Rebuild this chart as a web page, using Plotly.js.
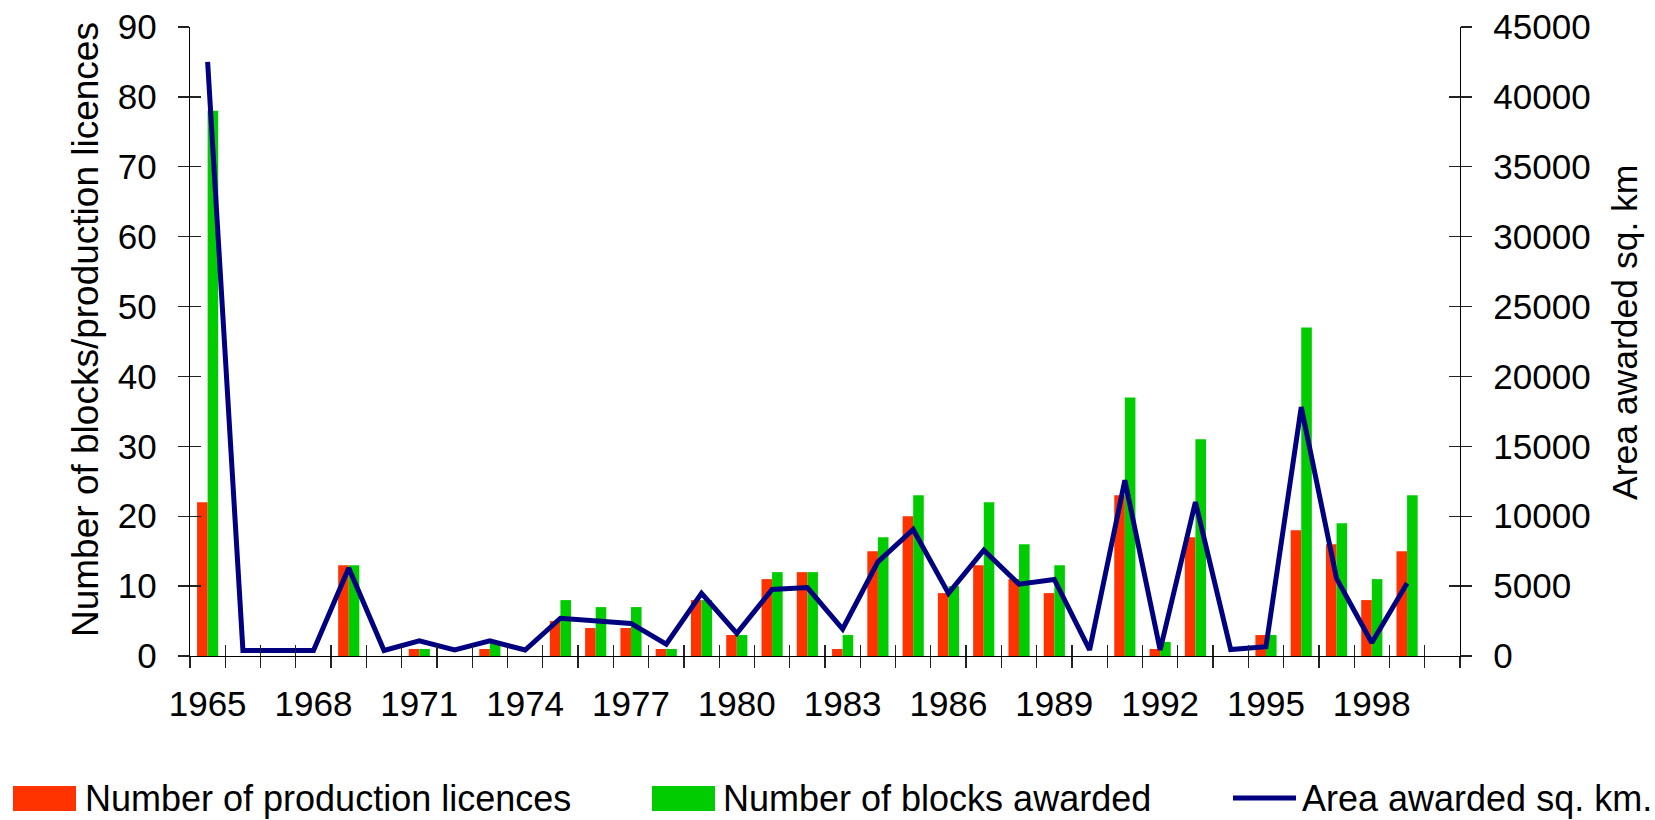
<!DOCTYPE html>
<html>
<head>
<meta charset="utf-8">
<script src="https://cdn.plot.ly/plotly-3.0.1.min.js"></script>
<style>
  html, body { margin: 0; padding: 0; background: #ffffff; }
  #chart { width: 1655px; height: 820px; }
</style>
</head>
<body>
<div id="chart"></div>
<script>
// ---------------- data ----------------
const years = [1965, 1966, 1967, 1968, 1969, 1970, 1971, 1972, 1973, 1974,
               1975, 1976, 1977, 1978, 1979, 1980, 1981, 1982, 1983, 1984,
               1985, 1986, 1987, 1988, 1989, 1990, 1991, 1992, 1993, 1994,
               1995, 1996, 1997, 1998, 1999, 2000];
const productionLicences = [22, 0, 0, 0, 13, 0, 1, 0, 1, 0,
                            5, 4, 4, 1, 8, 3, 11, 12, 1, 15,
                            20, 9, 13, 11, 9, 0, 23, 1, 17, 0,
                            3, 18, 16, 8, 15, null];
const blocksAwarded = [78, 0, 0, 0, 13, 0, 1, 0, 2, 0,
                       8, 7, 7, 1, 8, 3, 12, 12, 3, 17,
                       23, 10, 22, 16, 13, 0, 37, 2, 31, 0,
                       3, 47, 19, 11, 23, null];
const areaAwarded = [42500, 400, 400, 400, 6300, 400, 1080, 430, 1080, 430,
                     2700, 2550, 2330, 850, 4480, 1620, 4760, 4900, 1930, 6740,
                     9050, 4480, 7570, 5140, 5480, 430, 12570, 430, 11020, 460,
                     660, 17810, 5550, 950, 5200, null];
const seriesNames = ["Number of production licences", "Number of blocks awarded", "Area awarded sq. km."];
const leftTitle = "Number of blocks/production licences";
const rightTitle = "Area awarded sq. km";
const leftTicks = [0, 10, 20, 30, 40, 50, 60, 70, 80, 90];
const rightTicks = [0, 5000, 10000, 15000, 20000, 25000, 30000, 35000, 40000, 45000];

// --------------- derived --------------
const labelYears = years.filter(y => (y - years[0]) % 3 === 0 && y < 2000);
const boundaries = years.map(y => y - 0.5).concat([years[years.length - 1] + 0.5]);
const xRange = [boundaries[0], boundaries[boundaries.length - 1]];

// --------------- style ---------------
const FONT = "Liberation Sans, Arial, Helvetica, sans-serif";
const W = 1655, H = 820;
const M = { l: 190, r: 195, t: 27, b: 164 };
const pw = W - M.l - M.r, ph = H - M.t - M.b;
const px = x => (x - M.l) / pw;        // pixel -> paper x
const py = y => (H - M.b - y) / ph;    // pixel -> paper y
const RED = "#FF3300", GREEN = "#00CC00", NAVY = "#000080";
const TICKC = "#222";

// invisible helper traces so that the overlay axes (inner halves of the crossing ticks) get drawn
const helper = (xa, ya) => ({ type: "scatter", mode: "markers", x: [null], y: [null],
  xaxis: xa, yaxis: ya, showlegend: false, hoverinfo: "skip", marker: { opacity: 0 } });

const traces = [
  { type: "bar", name: seriesNames[0], x: years, y: productionLicences,
    marker: { color: RED }, xaxis: "x", yaxis: "y", showlegend: false },
  { type: "bar", name: seriesNames[1], x: years, y: blocksAwarded,
    marker: { color: GREEN }, xaxis: "x", yaxis: "y", showlegend: false },
  { type: "scatter", mode: "lines", name: seriesNames[2], x: years, y: areaAwarded,
    line: { color: NAVY, width: 5 }, xaxis: "x", yaxis: "y2", showlegend: false },
  helper("x2", "y"),
  helper("x", "y3"),
  helper("x", "y4")
];

const tickFont = { family: FONT, size: 35, color: "#000" };
const commonAx = { showgrid: false, zeroline: false, fixedrange: true };

const layout = {
  width: W, height: H,
  margin: M,
  paper_bgcolor: "#fff", plot_bgcolor: "#fff",
  barmode: "group", bargap: 0.4, bargroupgap: 0,
  showlegend: false,
  font: { family: FONT, color: "#000" },
  xaxis: Object.assign({}, commonAx, {
    type: "linear", range: xRange,
    tickmode: "array", tickvals: labelYears, ticktext: labelYears.map(String),
    ticks: "", tickfont: tickFont, ticklabelstandoff: 17,
    showline: true, linecolor: "#000", linewidth: 1.3,
    minor: { tickmode: "array", tickvals: boundaries, ticks: "outside", ticklen: 11, tickwidth: 1.3, tickcolor: TICKC }
  }),
  xaxis2: Object.assign({}, commonAx, {
    type: "linear", range: xRange, overlaying: "x", anchor: "y", side: "bottom",
    tickmode: "array", tickvals: boundaries, ticks: "inside", ticklen: 11, tickwidth: 1.3, tickcolor: TICKC,
    showticklabels: false, showline: false
  }),
  yaxis: Object.assign({}, commonAx, {
    range: [0, 90], tickmode: "array", tickvals: leftTicks, ticktext: leftTicks.map(String),
    ticks: "outside", ticklen: 11, tickwidth: 1.3, tickcolor: TICKC,
    tickfont: tickFont, ticklabelstandoff: 14,
    showline: true, linecolor: "#000", linewidth: 1.3
  }),
  yaxis3: Object.assign({}, commonAx, {
    range: [0, 90], overlaying: "y", anchor: "x", side: "left",
    tickmode: "array", tickvals: leftTicks,
    ticks: "inside", ticklen: 11, tickwidth: 1.3, tickcolor: TICKC,
    showticklabels: false, showline: false
  }),
  yaxis2: Object.assign({}, commonAx, {
    range: [0, 45000], overlaying: "y", anchor: "x", side: "right",
    tickmode: "array", tickvals: rightTicks, ticktext: rightTicks.map(String),
    ticks: "outside", ticklen: 11, tickwidth: 1.3, tickcolor: TICKC,
    tickfont: tickFont, ticklabelstandoff: 14,
    showline: true, linecolor: "#000", linewidth: 1.3
  }),
  yaxis4: Object.assign({}, commonAx, {
    range: [0, 45000], overlaying: "y", anchor: "x", side: "right",
    tickmode: "array", tickvals: rightTicks,
    ticks: "inside", ticklen: 11, tickwidth: 1.3, tickcolor: TICKC,
    showticklabels: false, showline: false
  }),
  shapes: [
    { type: "rect", xref: "paper", yref: "paper", x0: px(13), x1: px(76), y0: py(811), y1: py(786),
      fillcolor: RED, line: { width: 0 } },
    { type: "rect", xref: "paper", yref: "paper", x0: px(652), x1: px(715), y0: py(811), y1: py(786),
      fillcolor: GREEN, line: { width: 0 } },
    { type: "line", xref: "paper", yref: "paper", x0: px(1233), x1: px(1296), y0: py(798), y1: py(798),
      line: { color: NAVY, width: 5 } }
  ],
  annotations: [
    { text: seriesNames[0], xref: "paper", yref: "paper", x: px(84), y: py(798), xanchor: "left", yanchor: "middle",
      showarrow: false, borderpad: 0, font: { family: FONT, size: 36, color: "#000" } },
    { text: seriesNames[1], xref: "paper", yref: "paper", x: px(722), y: py(798), xanchor: "left", yanchor: "middle",
      showarrow: false, borderpad: 0, font: { family: FONT, size: 36, color: "#000" } },
    { text: seriesNames[2], xref: "paper", yref: "paper", x: px(1301), y: py(798), xanchor: "left", yanchor: "middle",
      showarrow: false, borderpad: 0, font: { family: FONT, size: 36, color: "#000" } },
    { text: leftTitle, xref: "paper", yref: "paper", x: px(85), y: py(330), xanchor: "center", yanchor: "middle",
      textangle: -90, showarrow: false, font: { family: FONT, size: 37, color: "#000" } },
    { text: rightTitle, xref: "paper", yref: "paper", x: px(1625), y: py(333), xanchor: "center", yanchor: "middle",
      textangle: -90, showarrow: false, font: { family: FONT, size: 35.5, color: "#000" } }
  ]
};

Plotly.newPlot("chart", traces, layout, { displayModeBar: false, staticPlot: true });
</script>
</body>
</html>
